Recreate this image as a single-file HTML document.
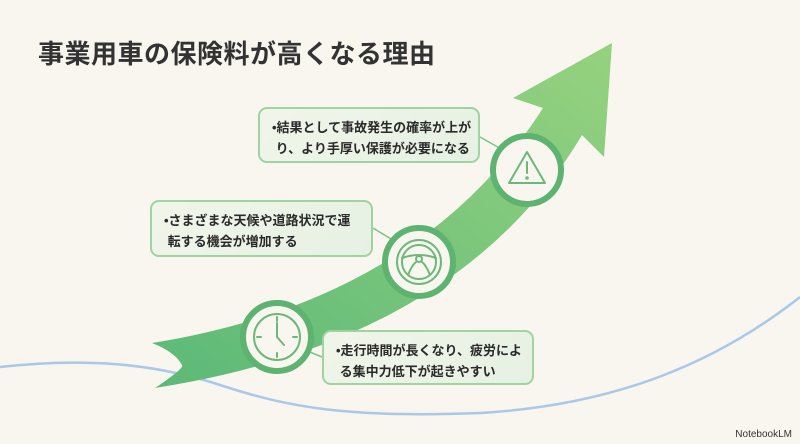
<!DOCTYPE html>
<html><head><meta charset="utf-8"><style>
html,body{margin:0;padding:0}
body{width:800px;height:444px;background:#f8f6ef;position:relative;overflow:hidden;font-family:"Liberation Sans","Noto Sans CJK JP",sans-serif}
.t{position:absolute;left:38px;top:34px;font-size:26px;font-weight:bold;color:#333;letter-spacing:0.5px}
.b{position:absolute;background:linear-gradient(135deg,#f1f5ea,#e6f1e3);border:2px solid #9fd3a0;border-radius:9px;box-sizing:border-box;font-size:13px;font-weight:bold;color:#2a2a2a;line-height:21px;padding:8px 8px 0 12px;white-space:nowrap}
.nb{position:absolute;right:8px;bottom:4px;font-size:10px;color:#333}
</style></head><body>
<svg width="800" height="444" style="position:absolute;left:0;top:0">
<defs><linearGradient id="g" x1="0" y1="1" x2="1" y2="0"><stop offset="0" stop-color="#5cb978"/><stop offset="1" stop-color="#96d27f"/></linearGradient></defs>
<path d="M0,367 C80,358 150,362 220,385 C290,408 350,418 480,413 C620,405 720,360 800,297" fill="none" stroke="#a9c8ea" stroke-width="2.5"/>
<path d="M152,343 Q420,300 543,108 L513,98 L612,43 L604,157 L582,135 Q460,340 155,388 Q185,368 182,365 Q175,352 152,343 Z" fill="url(#g)"/>
<g stroke="#7cc487" stroke-width="1.5"><line x1="480" y1="137" x2="503" y2="150"/><line x1="373" y1="228" x2="396" y2="242"/><line x1="322" y1="357" x2="305" y2="350"/></g>
<g fill="#f8f6ef" stroke="#5db36f" stroke-width="6">
<circle cx="277" cy="337" r="34"/><circle cx="419" cy="262" r="34"/><circle cx="527" cy="170" r="34"/></g>
<g fill="none" stroke="#6bb97a" stroke-width="2" stroke-linecap="round" stroke-linejoin="round">
<circle cx="277" cy="337" r="23"/><path d="M277,317v4M277,353v4M257,337h4M293,337h4M277,323v14l7,8"/>
<circle cx="419" cy="262" r="22"/><circle cx="419" cy="262" r="17"/><circle cx="419" cy="259" r="3"/><path d="M402,258 q17,-6 34,0 M408,275 q4,-10 8,-13 M430,275 q-4,-10 -8,-13"/>
<path d="M527,152 L545,183 H509 Z"/><path d="M527,162v11"/><circle cx="527" cy="178" r="0.8"/></g>
</svg>
<div class="t">事業用車の保険料が高くなる理由</div>
<div class="b" style="left:258px;top:107px;width:222px;height:56px">•結果として事故発生の確率が上が<br>&nbsp;り、より手厚い保護が必要になる</div>
<div class="b" style="left:150px;top:200px;width:223px;height:57px">•さまざまな天候や道路状況で運<br>&nbsp;転する機会が増加する</div>
<div class="b" style="left:322px;top:330px;width:212px;height:55px">•走行時間が長くなり、疲労によ<br>&nbsp;る集中力低下が起きやすい</div>
<div class="nb">NotebookLM</div>
</body></html>
